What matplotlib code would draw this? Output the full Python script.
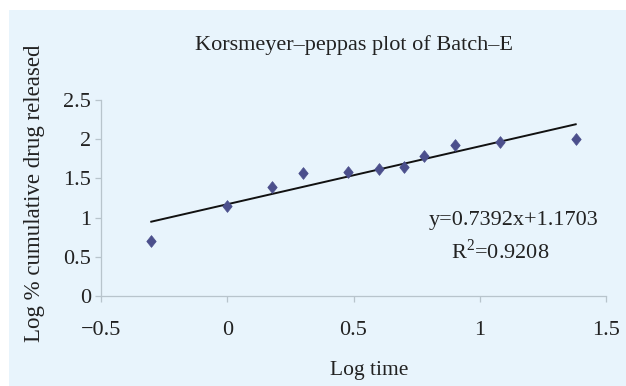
import matplotlib
matplotlib.use("Agg")
import matplotlib.pyplot as plt
from matplotlib.patches import Rectangle
from matplotlib.path import Path

# Data
log_time = [-0.301, 0.0, 0.176, 0.301, 0.477, 0.602, 0.699, 0.778, 0.903, 1.079, 1.380]
log_release = [0.70, 1.15, 1.39, 1.57, 1.58, 1.62, 1.64, 1.78, 1.92, 1.97, 2.00]
slope = 0.7392
intercept = 1.1703
x_ticks = [-0.5, 0, 0.5, 1, 1.5]
x_tick_labels = ["\u22120.5", "0", "0.5", "1", "1.5"]
y_ticks = [0, 0.5, 1, 1.5, 2, 2.5]
y_tick_labels = ["0", "0.5", "1", "1.5", "2", "2.5"]
title = "Korsmeyer\u2013peppas plot of Batch\u2013E"
xlabel = "Log time"
ylabel = "Log % cumulative drug released"
eq_text = "y=0.7392x+1.1703"
r2_text = "R$^2$=0.9208"

plt.rcParams['font.family'] = ['Liberation Serif', 'DejaVu Serif']
plt.rcParams['mathtext.fontset'] = 'custom'
plt.rcParams['mathtext.rm'] = 'Liberation Serif'

W, H = 626, 386
fig = plt.figure(figsize=(W/100, H/100), dpi=100)
fig.patch.set_facecolor('white')
bg = '#e8f4fc'
rect = Rectangle((9/W, 0), 1 - 9/W, 1 - 10/H, transform=fig.transFigure,
                 facecolor=bg, edgecolor='none', zorder=-10)
fig.add_artist(rect)

ax = fig.add_axes([101/W, 1 - 296/H, (606 - 101)/W, (296 - 100)/H])
ax.set_zorder(1)
ax.set_facecolor('none')
ax.set_xlim(-0.5, 1.5)
ax.set_ylim(0, 2.5)

spine_c = '#b8c4cc'
for s in ['top', 'right']:
    ax.spines[s].set_visible(False)
for s in ['left', 'bottom']:
    ax.spines[s].set_color(spine_c)
    ax.spines[s].set_linewidth(0.9)

ax.set_xticks(x_ticks)
ax.set_xticklabels(x_tick_labels)
ax.set_yticks(y_ticks)
ax.set_yticklabels(y_tick_labels)
ax.tick_params(axis='both', colors=spine_c, length=4, width=0.9, labelsize=16,
               labelcolor='#222222')
ax.tick_params(axis='x', pad=14)
ax.tick_params(axis='y', pad=3)

diamond = Path([(0, 1), (0.8, 0), (0, -1), (-0.8, 0), (0, 1)],
               [Path.MOVETO, Path.LINETO, Path.LINETO, Path.LINETO, Path.CLOSEPOLY])

# trendline
x0, x1 = min(log_time), max(log_time)
ax.plot([x0, x1], [slope * x0 + intercept, slope * x1 + intercept], color='#111111',
        lw=1.4, zorder=2)
ax.plot(log_time, log_release, linestyle='none', marker=diamond, markersize=8.5,
        color='#4b4f8c', markeredgecolor='#4b4f8c', markeredgewidth=0.5, zorder=3,
        clip_on=False)

fig.text(354/W, 1 - 45/H, title, ha='center', va='center', fontsize=16, color='#222222')
fig.text(369/W, 1 - 370/H, xlabel, ha='center', va='center', fontsize=15.5, color='#222222')
fig.text(35/W, 1 - 193/H, ylabel, ha='center', va='center', rotation=90, fontsize=16.5,
         color='#222222')
fig.text(514/W, 1 - 220/H, eq_text, ha='center', va='center', fontsize=16, color='#222222')
fig.text(500/W, 1 - 252/H, r2_text, ha='center', va='center', fontsize=16, color='#222222')

fig.savefig('out.png', dpi=100, facecolor='white')
